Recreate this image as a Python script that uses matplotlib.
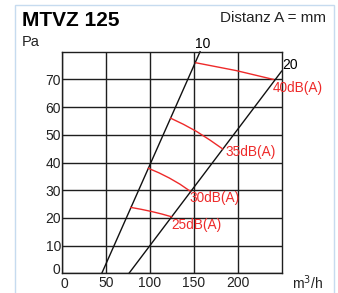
import matplotlib
matplotlib.use('Agg')
import matplotlib.pyplot as plt
from matplotlib.patches import Rectangle
from matplotlib.transforms import ScaledTranslation

plt.rcParams['font.family'] = ['Liberation Sans', 'DejaVu Sans']

# system lines (m3/h, Pa)
line10_x = [45, 157]
line10_y = [0, 80]
line20_x = [76, 250]
line20_y = [0, 73]

# noise curves, points
db40_x = [152.4, 198.0, 240.5]
db40_y = [76.0, 73.2, 70.0]
db35_x = [123.5, 138.0, 153.1, 168.3, 182.8]
db35_y = [56.0, 53.8, 51.2, 48.1, 44.9]
db30_x = [98.1, 110.0, 122.0, 134.0, 145.5]
db30_y = [37.9, 36.3, 34.4, 32.2, 29.7]
db25_x = [78.0, 90.0, 101.9, 113.5, 124.7]
db25_y = [23.8, 23.1, 22.3, 21.4, 20.4]

db_labels = ['40dB(A)', '35dB(A)', '30dB(A)', '25dB(A)']
db_label_x = [240, 186, 145.5, 124]
db_label_y = [66.8, 43.8, 27.3, 17.4]

xticks = [0, 50, 100, 150, 200]
yticks = [0, 10, 20, 30, 40, 50, 60, 70]

fig = plt.figure(figsize=(3.38, 2.93), dpi=100)
ax = fig.add_axes([0.1843, 0.0672, 0.649, 0.7563])

red = '#ee2a2a'
ax.plot(line10_x, line10_y, color='#111111', lw=1.0, clip_on=False)
ax.plot(line20_x, line20_y, color='#111111', lw=1.0, clip_on=False)
for xs, ys in [(db40_x, db40_y), (db35_x, db35_y), (db30_x, db30_y), (db25_x, db25_y)]:
    ax.plot(xs, ys, color=red, lw=1.0)
for lab, lx, ly in zip(db_labels, db_label_x, db_label_y):
    ax.text(lx, ly, lab, color=red, fontsize=9.8, ha='left', va='center', clip_on=False)

ax.text(160.3, 82.8, '10', fontsize=10, ha='center', va='center', clip_on=False)
ax.text(260, 75.2, '20', fontsize=10, ha='center', va='center', clip_on=False)

ax.set_xlim(0, 250)
ax.set_ylim(0, 80)
ax.set_xticks(xticks)
ax.set_yticks(yticks)
ax.tick_params(length=0, labelsize=10, colors='#222222')
ax.tick_params(axis='y', pad=1)
ax.tick_params(axis='x', pad=2)
ax.grid(True, color='#1e1e1e', lw=1.0)
ax.set_axisbelow(True)
for s in ax.spines.values():
    s.set_color('#1e1e1e')
    s.set_linewidth(1.0)

# the two zeros sit apart in the corner
y0 = ax.get_yticklabels()[0]
y0.set_transform(y0.get_transform() + ScaledTranslation(-1 / 100, 5 / 100, fig.dpi_scale_trans))
x0 = ax.get_xticklabels()[0]
x0.set_transform(x0.get_transform() + ScaledTranslation(2 / 100, -1 / 100, fig.dpi_scale_trans))

fig.text(21.7 / 338, 1 - 20 / 293, 'MTVZ 125', fontsize=15, fontweight='bold', va='center', ha='left')
fig.text(326 / 338, 1 - 18.5 / 293, 'Distanz A = mm', fontsize=11, va='center', ha='right', color='#222222')
fig.text(21.7 / 338, 1 - 41.5 / 293, 'Pa', fontsize=10.5, va='center', ha='left', color='#222222')
fig.text(292 / 338, 1 - 283 / 293, 'm$^3$/h', fontsize=10, va='center', ha='left', color='#222222')

fig.patches.append(Rectangle((15 / 338, -0.05), (334 - 15) / 338, 1.05 - 5.5 / 293,
                             transform=fig.transFigure, fill=False, edgecolor='#c6dbef', lw=1.0))

fig.savefig('out.png', dpi=100)
